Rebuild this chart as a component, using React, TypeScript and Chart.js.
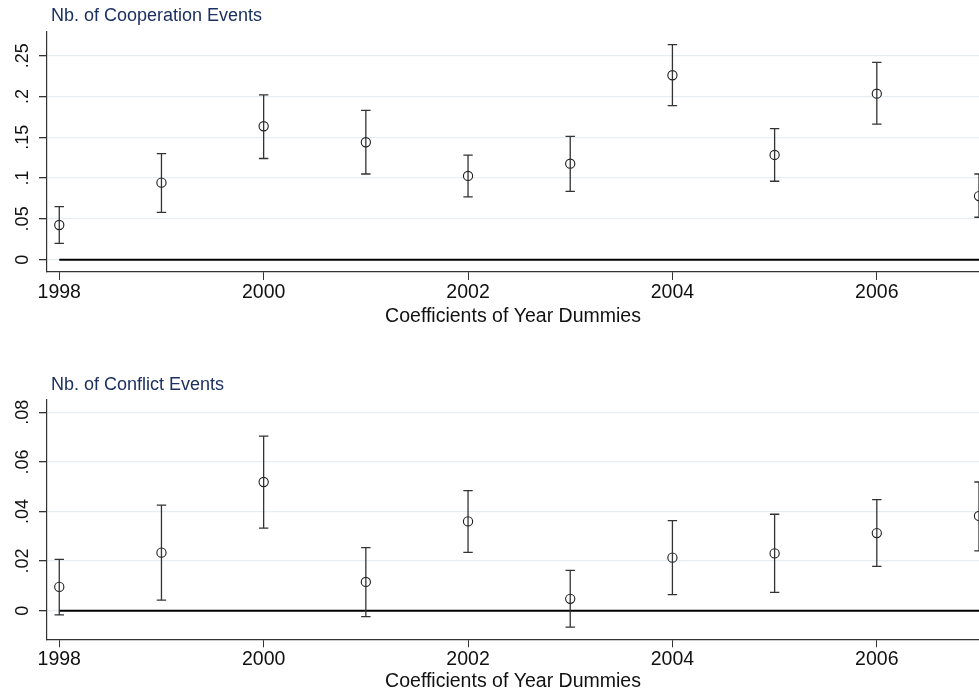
import React, { useEffect, useRef } from 'react';
import { Chart, registerables } from 'chart.js';

Chart.register(...registerables);

const years = [1998, 1999, 2000, 2001, 2002, 2003, 2004, 2005, 2006, 2007];
const xTickValues = [1998, 2000, 2002, 2004, 2006];
const xAxisTitle = 'Coefficients of Year Dummies';

const coopTitle = 'Nb. of Cooperation Events';
const coopCoef = [0.0425, 0.0944, 0.1635, 0.1439, 0.1026, 0.1176, 0.226, 0.1283, 0.2034, 0.078];
const coopLower = [0.02, 0.058, 0.124, 0.105, 0.077, 0.0838, 0.1887, 0.0961, 0.166, 0.052];
const coopUpper = [0.065, 0.13, 0.202, 0.183, 0.128, 0.151, 0.2635, 0.1605, 0.2419, 0.105];
const coopTicks = [0, 0.05, 0.1, 0.15, 0.2, 0.25];
const coopTickLabels = ['0', '.05', '.1', '.15', '.2', '.25'];

const conflictTitle = 'Nb. of Conflict Events';
const conflictCoef = [0.0096, 0.0234, 0.0519, 0.0116, 0.036, 0.0048, 0.0214, 0.0231, 0.0313, 0.0382];
const conflictLower = [-0.0017, 0.0043, 0.0333, -0.0024, 0.0235, -0.0066, 0.0065, 0.0074, 0.0179, 0.0241];
const conflictUpper = [0.0207, 0.0426, 0.0704, 0.0254, 0.0484, 0.0163, 0.0363, 0.0389, 0.0448, 0.0519];
const conflictTicks = [0, 0.02, 0.04, 0.06, 0.08];
const conflictTickLabels = ['0', '.02', '.04', '.06', '.08'];

const FONT = '"Liberation Sans", Arial, Helvetica, sans-serif';
const TITLE_COLOR = '#1c3160';
const TEXT_COLOR = '#111111';
const AXIS_COLOR = '#333333';
const GRID_COLOR = '#e7eef2';

type PanelProps = {
  title: string;
  coef: number[];
  lower: number[];
  upper: number[];
  yTicks: number[];
  yTickLabels: string[];
  yMin: number;
  yMax: number;
  width: number;
  height: number;
  top: number;
  padTop: number;
  xAxisHeight: number;
  titleBaseline: number;
  axisTitleBaseline: number;
};

function Panel(p: PanelProps) {
  const ref = useRef<HTMLCanvasElement | null>(null);

  useEffect(() => {
    if (!ref.current) return;

    const decor = {
      id: 'decor',
      afterDatasetDraw(chart: any, args: any) {
        if (args.index !== 0) return;
        const { ctx, chartArea, scales } = chart;
        const xs = scales.x;
        const ys = scales.y;
        ctx.save();
        ctx.beginPath();
        ctx.rect(chartArea.left, chartArea.top - 10, chartArea.right - chartArea.left + 10, chartArea.bottom - chartArea.top + 10);
        ctx.clip();
        ctx.strokeStyle = AXIS_COLOR;
        ctx.lineWidth = 1.3;
        years.forEach((yr, i) => {
          const x = xs.getPixelForValue(yr);
          const yl = ys.getPixelForValue(p.lower[i]);
          const yu = ys.getPixelForValue(p.upper[i]);
          ctx.beginPath();
          ctx.moveTo(x, yl);
          ctx.lineTo(x, yu);
          ctx.moveTo(x - 4.7, yl);
          ctx.lineTo(x + 4.7, yl);
          ctx.moveTo(x - 4.7, yu);
          ctx.lineTo(x + 4.7, yu);
          ctx.stroke();
        });
        ctx.restore();
      },
      afterDraw(chart: any) {
        const { ctx, chartArea, scales } = chart;
        const ys = scales.y;
        ctx.save();
        // panel title
        ctx.font = `18px ${FONT}`;
        ctx.fillStyle = TITLE_COLOR;
        ctx.textAlign = 'left';
        ctx.textBaseline = 'alphabetic';
        ctx.fillText(p.title, 51, p.titleBaseline);
        // y tick labels (rotated)
        ctx.font = `18px ${FONT}`;
        ctx.fillStyle = TEXT_COLOR;
        p.yTicks.forEach((v, i) => {
          const y = ys.getPixelForValue(v);
          ctx.save();
          ctx.translate(28, y);
          ctx.rotate(-Math.PI / 2);
          ctx.textAlign = 'center';
          ctx.textBaseline = 'alphabetic';
          ctx.fillText(p.yTickLabels[i], 0, 0);
          ctx.restore();
        });
        // x axis title
        ctx.font = `19.5px ${FONT}`;
        ctx.fillStyle = TEXT_COLOR;
        ctx.textAlign = 'center';
        ctx.textBaseline = 'alphabetic';
        ctx.fillText(xAxisTitle, (chartArea.left + chartArea.right) / 2, p.axisTitleBaseline);
        ctx.restore();
      },
    };

    const chart = new Chart(ref.current, {
      type: 'scatter',
      data: {
        datasets: [
          {
            type: 'line',
            data: [
              { x: years[0], y: 0 },
              { x: years[years.length - 1] + 1, y: 0 },
            ],
            borderColor: '#000000',
            borderWidth: 2,
            pointRadius: 0,
            showLine: true,
            fill: false,
          } as any,
          {
            type: 'scatter',
            data: years.map((x, i) => ({ x, y: p.coef[i] })),
            pointRadius: 4.6,
            pointBorderWidth: 1.1,
            pointBorderColor: '#1a1a1a',
            pointBackgroundColor: '#ffffff',
          } as any,
        ],
      },
      options: {
        animation: false,
        responsive: false,
        events: [],
        layout: {
          autoPadding: false,
          padding: { top: p.padTop, left: 0, right: 0, bottom: 0 },
        },
        plugins: {
          legend: { display: false },
          tooltip: { enabled: false },
          title: { display: false },
        },
        scales: {
          x: {
            type: 'linear',
            min: 1997.88,
            max: 2007.0,
            afterBuildTicks: (s: any) => {
              s.ticks = xTickValues.map((v) => ({ value: v }));
            },
            afterFit: (s: any) => {
              s.height = p.xAxisHeight;
            },
            ticks: {
              autoSkip: false,
              maxRotation: 0,
              minRotation: 0,
              padding: 1,
              color: TEXT_COLOR,
              font: { family: FONT, size: 19.5 },
              callback: (v: any) => String(v),
            },
            grid: {
              color: 'rgba(0,0,0,0)',
              tickColor: AXIS_COLOR,
              tickLength: 8,
              lineWidth: 1,
            },
            border: { color: AXIS_COLOR, width: 1.2 },
          },
          y: {
            type: 'linear',
            min: p.yMin,
            max: p.yMax,
            afterBuildTicks: (s: any) => {
              s.ticks = p.yTicks.map((v) => ({ value: v }));
            },
            afterFit: (s: any) => {
              s.width = 47;
            },
            ticks: { display: false },
            grid: {
              color: GRID_COLOR,
              tickColor: AXIS_COLOR,
              tickLength: 8,
              lineWidth: 1.3,
            },
            border: { color: AXIS_COLOR, width: 1.2 },
          },
        },
      },
      plugins: [decor],
    } as any);

    return () => chart.destroy();
  }, []);

  return (
    <canvas
      ref={ref}
      width={p.width}
      height={p.height}
      style={{ position: 'absolute', left: 0, top: p.top, width: p.width, height: p.height, display: 'block' }}
    />
  );
}

export default function App() {
  return (
    <div style={{ position: 'fixed', left: 0, top: 0, width: 979, height: 695, overflow: 'hidden', background: '#ffffff' }}>
      <Panel
        title={coopTitle}
        coef={coopCoef}
        lower={coopLower}
        upper={coopUpper}
        yTicks={coopTicks}
        yTickLabels={coopTickLabels}
        yMin={-0.0151}
        yMax={0.279}
        width={979}
        height={340}
        top={0}
        padTop={32}
        xAxisHeight={68}
        titleBaseline={21}
        axisTitleBaseline={322}
      />
      <Panel
        title={conflictTitle}
        coef={conflictCoef}
        lower={conflictLower}
        upper={conflictUpper}
        yTicks={conflictTicks}
        yTickLabels={conflictTickLabels}
        yMin={-0.01153}
        yMax={0.08496}
        width={979}
        height={355}
        top={340}
        padTop={60}
        xAxisHeight={55.7}
        titleBaseline={50}
        axisTitleBaseline={347}
      />
    </div>
  );
}
